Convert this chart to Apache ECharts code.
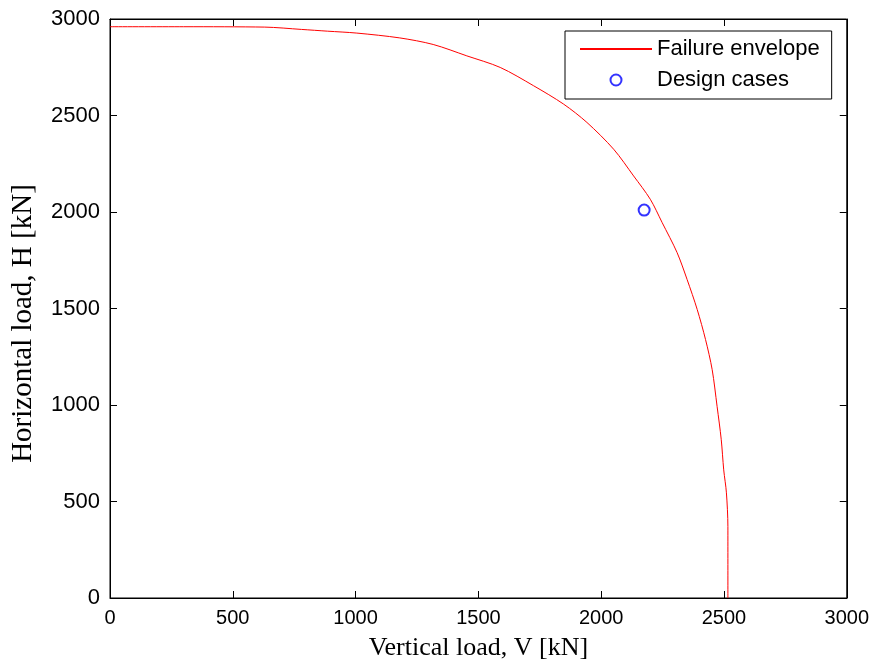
<!DOCTYPE html>
<html>
<head>
<meta charset="utf-8">
<script src="https://cdn.jsdelivr.net/npm/echarts@6/dist/echarts.min.js"></script>
<style>
  html, body { margin: 0; padding: 0; background: #fff; }
  #main { width: 872px; height: 666px; }
</style>
</head>
<body>
<div id="main"></div>
<script>
var myChart = echarts.init(document.getElementById('main'));

// failure envelope: [V, H] in kN
var envelope = [
  [0, 2960], [300, 2960], [630, 2958], [780, 2946], [885, 2937],
  [1005, 2927], [1180, 2902], [1316, 2868], [1453, 2809], [1589, 2749],
  [1725, 2654], [1847, 2559], [1942, 2464], [2051, 2325], [2132, 2187],
  [2200, 2066], [2248, 1946], [2309, 1790], [2350, 1650], [2391, 1495],
  [2425, 1339], [2452, 1183], [2472, 993], [2489, 820], [2499, 664],
  [2510, 545], [2516, 370], [2516, 0]
];

// design cases
var designCases = [
  [2175, 2010]
];

var seriesNames = ['Failure envelope', 'Design cases'];
var axisMin = 0;
var axisMax = 3000;
var axisStep = 500;

var option;

// ticks drawn into the plot, like the original
function tick() {
  return { show: true, inside: true, length: 7, lineStyle: { color: '#000', width: 1 } };
}
function plainNum(v) {
  return String(v);
}

option = {
  animation: false,
  backgroundColor: '#fff',
  grid: {
    left: 110,
    right: 25,
    top: 19,
    bottom: 68,
    show: true,
    borderColor: '#000',
    borderWidth: 1
  },
  legend: {
    orient: 'vertical',
    left: 565,
    top: 31,
    padding: [7, 12, 8, 14],
    itemGap: 9,
    itemWidth: 72,
    itemHeight: 11,
    backgroundColor: '#fff',
    borderColor: '#000',
    borderWidth: 1,
    textStyle: { fontFamily: 'Liberation Sans', fontSize: 22, color: '#000' },
    data: [
      { name: seriesNames[0], itemStyle: { opacity: 0 } },
      { name: seriesNames[1] }
    ]
  },
  xAxis: [
    {
      type: 'value',
      min: axisMin,
      max: axisMax,
      interval: axisStep,
      name: 'Vertical load, V [kN]',
      nameLocation: 'middle',
      nameGap: 37,
      nameTextStyle: { fontFamily: 'Liberation Serif', fontSize: 26, color: '#000' },
      axisLine: { show: true, onZero: false, lineStyle: { color: '#000' } },
      axisTick: tick(),
      splitLine: { show: false },
      axisLabel: {
        margin: 10,
        fontFamily: "'Liberation Sans Narrow', 'Liberation Sans'",
        fontSize: 20,
        color: '#000',
        formatter: plainNum
      }
    },
    {
      type: 'value',
      position: 'top',
      min: axisMin,
      max: axisMax,
      interval: axisStep,
      axisLine: { show: true, onZero: false, lineStyle: { color: '#000' } },
      axisTick: tick(),
      axisLabel: { show: false },
      splitLine: { show: false }
    }
  ],
  yAxis: [
    {
      type: 'value',
      min: axisMin,
      max: axisMax,
      interval: axisStep,
      name: 'Horizontal load, H [kN]',
      nameLocation: 'middle',
      nameGap: 72,
      nameTextStyle: {
        fontFamily: 'Liberation Serif',
        fontSize: 29,
        color: '#000',
        padding: [0, 30, 0, 0]
      },
      axisLine: { show: true, onZero: false, lineStyle: { color: '#000' } },
      axisTick: tick(),
      splitLine: { show: false },
      axisLabel: {
        margin: 10,
        fontFamily: 'Liberation Sans',
        fontSize: 22,
        color: '#000',
        formatter: plainNum
      }
    },
    {
      type: 'value',
      position: 'right',
      min: axisMin,
      max: axisMax,
      interval: axisStep,
      axisLine: { show: true, onZero: false, lineStyle: { color: '#000' } },
      axisTick: tick(),
      axisLabel: { show: false },
      splitLine: { show: false }
    }
  ],
  series: [
    {
      name: seriesNames[0],
      type: 'line',
      xAxisIndex: 0,
      yAxisIndex: 0,
      showSymbol: false,
      symbol: 'none',
      smooth: 0.3,
      lineStyle: { color: '#ff0000', width: 1 },
      itemStyle: { color: '#ff0000' },
      data: envelope
    },
    {
      name: seriesNames[1],
      type: 'scatter',
      xAxisIndex: 0,
      yAxisIndex: 0,
      symbol: 'emptyCircle',
      symbolSize: 11,
      itemStyle: { color: '#0000ff', borderColor: '#0000ff', borderWidth: 1 },
      data: designCases
    }
  ]
};

option && myChart.setOption(option);
</script>
</body>
</html>
